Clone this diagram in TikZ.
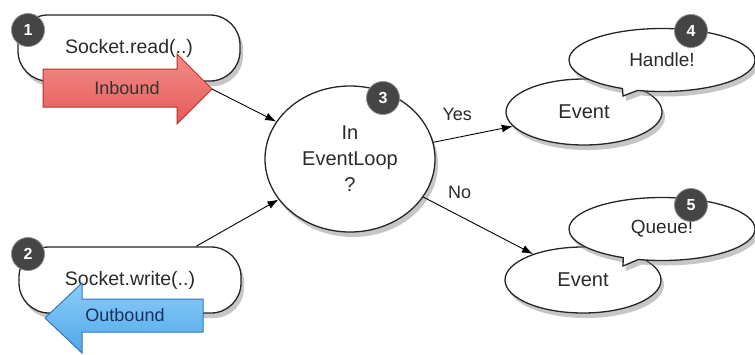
\documentclass[tikz,border=0pt]{standalone}
\usepackage{fontspec}
\setmainfont{Liberation Sans}
\usetikzlibrary{arrows.meta, shapes.geometric, shapes.callouts, shadows}
\definecolor{badgegray}{HTML}{454545}
\definecolor{inred}{HTML}{E65A57}
\definecolor{inredlight}{HTML}{F28C89}
\definecolor{inredline}{HTML}{B8302C}
\definecolor{outblue}{HTML}{4FA8EA}
\definecolor{outbluelight}{HTML}{8CCDF7}
\definecolor{outblueline}{HTML}{2F78C0}
\definecolor{outtext}{HTML}{1B2F5E}
\definecolor{inktext}{HTML}{2A2A2A}

\begin{document}
\begin{tikzpicture}[x=1pt, y=-1pt,
    bubble/.style={rectangle, rounded corners=30pt, draw=black!85, line width=1.3pt, fill=white,
      minimum width=222pt, minimum height=66pt, font=\fontsize{19.5}{24}\selectfont, text=inktext,
      drop shadow={shadow xshift=3pt, shadow yshift=-5pt, opacity=0.45}},
    oval/.style={ellipse, draw=black!85, line width=1.3pt, fill=white, inner sep=0pt,
      font=\fontsize{20}{26}\selectfont, text=inktext, align=center,
      drop shadow={shadow xshift=3pt, shadow yshift=-5pt, opacity=0.45}},
    talk/.style={ellipse callout, draw=black!85, line width=1.3pt, fill=white, inner sep=0pt,
      minimum width=186pt, minimum height=63pt, callout pointer arc=10,
      font=\fontsize{19}{23}\selectfont, text=inktext,
      drop shadow={shadow xshift=3pt, shadow yshift=-5pt, opacity=0.45}},
    badge/.style={circle, fill=badgegray, draw=black!45, line width=0.8pt, minimum size=33pt,
      inner sep=0pt, text=white, font=\bfseries\fontsize{16}{18}\selectfont},
    arr/.style={-{Latex[length=11pt, width=8pt]}, line width=0.9pt},
    lbl/.style={font=\fontsize{18}{22}\selectfont, text=inktext}]

  \useasboundingbox (0,0) rectangle (755,354);

  % Socket.read with inbound arrow
  \node[bubble] (read) at (129,48) {Socket.read(..)};
  \path[draw=inredline, line width=1pt, top color=inredlight, bottom color=inred]
    (43,69) -- (177,69) -- (177,54) -- (212,89) -- (177,124) -- (177,107) -- (43,107) -- cycle;
  \node[lbl, text=black!80] (inb) at (127,88) {Inbound};
  \coordinate (inTip) at (212,89);

  % Socket.write with outbound arrow
  \node[bubble] (write) at (130,280) {Socket.write(..)};
  \path[draw=outblueline, line width=1pt, top color=outbluelight, bottom color=outblue]
    (203,299) -- (82,299) -- (82,283) -- (45,318) -- (82,353) -- (82,332) -- (203,332) -- cycle;
  \node[lbl, text=outtext] (outb) at (125,315) {Outbound};

  % decision
  \node[oval, minimum width=170pt, minimum height=146pt] (loop) at (350,159) {In\\EventLoop\\?};

  % results (the callouts sit on top of the events)
  \node[oval, minimum width=156pt, minimum height=66pt] (ev1) at (584,112) {Event};
  \node[talk, callout absolute pointer={(623,96)}] (handle) at (662,60) {Handle!};
  \node[oval, minimum width=156pt, minimum height=66pt] (ev2) at (583,280) {Event};
  \node[talk, callout absolute pointer={(623,266)}] (queue) at (662,229) {Queue!};

  % connectors
  \draw[arr] (inTip) -- (loop);
  \draw[arr] (write.27) -- (loop);
  \draw[arr] (loop) -- node[lbl, above=13pt, pos=0.3] (yes) {Yes} (ev1);
  \draw[arr] (loop) -- node[lbl, above=13pt, pos=0.33] (no) {No} (ev2);

  % step numbers
  \node[badge] (b1) at (28,30) {1};
  \node[badge] (b2) at (28,254) {2};
  \node[badge] (b3) at (383,98) {3};
  \node[badge] (b4) at (691,31) {4};
  \node[badge] (b5) at (691,205) {5};
\end{tikzpicture}
\end{document}
